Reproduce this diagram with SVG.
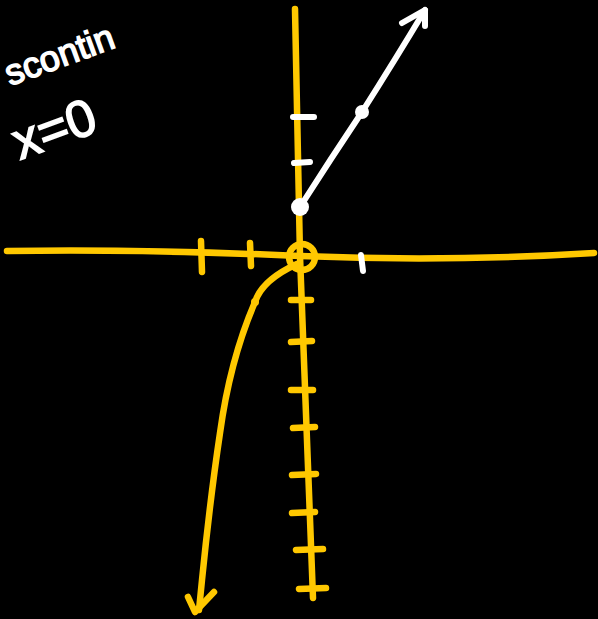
<svg xmlns="http://www.w3.org/2000/svg" width="598" height="619" viewBox="0 0 598 619">
<style>
.y{fill:none;stroke:#FFC800;stroke-width:6.5;stroke-linecap:round;stroke-linejoin:round}
.w{fill:none;stroke:#FFFFFF;stroke-width:6;stroke-linecap:round;stroke-linejoin:round}
.t{fill:#FFFFFF;stroke:#FFFFFF;stroke-width:1.5;font-family:"Liberation Sans",sans-serif}
</style>
<rect width="598" height="619" fill="#000"/>
<g id="labels">
<text class="t" font-size="36" transform="translate(10,86) rotate(-20)">scontin</text>
<text class="t" font-size="52" transform="translate(20,160) rotate(-20)">x=0</text>
</g>
<g id="axes">
<path class="y" d="M7,251 Q150,249 300,256 Q450,262 594,253"/>
<path class="y" d="M295,9 Q298,150 300,256 Q306,430 313,598"/>
<circle class="y" cx="302" cy="257" r="13"/>
<g id="xticks">
<path class="y" d="M201,241 L202,272"/>
<path class="y" d="M250,243 L251,266"/>
<path class="w" d="M361,255 L363,271"/>
</g>
<g id="yticks">
<path class="w" d="M293,117 L314,117"/>
<path class="w" d="M294,163 L310,162"/>
<path class="y" d="M291,300 L311,300"/>
<path class="y" d="M291,342 L312,341"/>
<path class="y" d="M291,390 L313,390"/>
<path class="y" d="M293,428 L315,427"/>
<path class="y" d="M292,475 L316,474"/>
<path class="y" d="M292,513 L315,512"/>
<path class="y" d="M296,550 L323,549"/>
<path class="y" d="M299,589 L326,588"/>
</g>
</g>
<g id="connectors">
<path class="w" d="M300,207 Q330,160 362,112 Q395,60 425,10"/>
<path class="w" d="M402,23 L425,10 L425,26"/>
<circle cx="300" cy="207" r="9" fill="#fff"/>
<circle cx="362" cy="112" r="7" fill="#fff"/>
<path class="y" d="M297,264 Q262,280 255,302 Q230,360 220,433 Q210,500 202,580 L199,610"/>
<path class="y" d="M188,597 L195,612 L214,592"/>
<circle cx="255" cy="302" r="4" fill="#FFC800"/>
</g>
</svg>
